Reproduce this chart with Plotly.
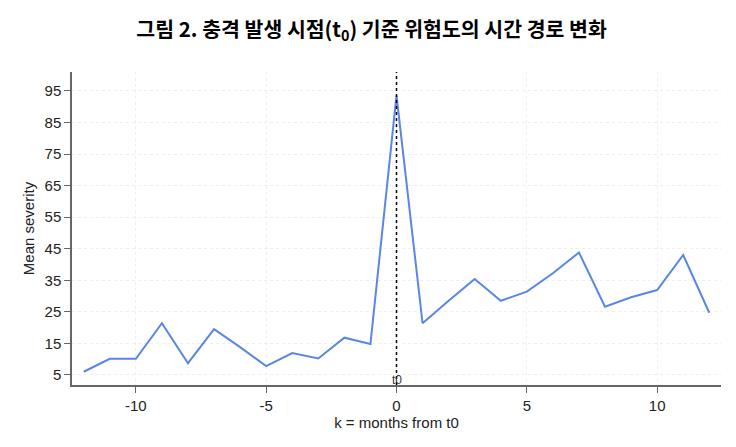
import plotly.graph_objects as go

# months relative to the shock (t0) and mean severity
months = list(range(-12, 13))
mean_severity = [
    6.0, 10.1, 10.1, 21.4, 8.7, 19.5, 13.8, 7.8, 11.9, 10.2, 16.8, 14.8,
    93.6,
    21.4, 28.5, 35.4, 28.5, 31.4, 37.2, 43.8, 26.6, 29.6, 31.9, 43.0, 24.7,
]
y_ticks = [5, 15, 25, 35, 45, 55, 65, 75, 85, 95]
x_ticks = [-10, -5, 0, 5, 10]
x_tick_labels = ["-10", "-5", "0", "5", "10"]

title_text = "<b>그림 2. 충격 발생 시점(t<sub>0</sub>) 기준 위험도의 시간 경로 변화</b>"

grid_color = "rgba(210,210,210,0.35)"
axis_color = "#666666"

fig = go.Figure()

fig.add_trace(
    go.Scatter(
        x=months,
        y=mean_severity,
        mode="lines",
        line=dict(color="#5A86E6", width=2),
        showlegend=False,
    )
)

# dotted marker at the shock month
fig.add_vline(x=0, line=dict(color="black", width=1.5, dash="dot"))
fig.add_annotation(
    x=0, y=0, xref="x", yref="paper",
    text="t0", showarrow=False,
    yanchor="bottom", yshift=-4,
    font=dict(size=12, color="#333333"),
)

# page body adds 8px around the figure, so size it to fit the window
fig.update_layout(
    width=720,
    height=431,
    margin=dict(l=64, r=7, t=64, b=54),
    paper_bgcolor="white",
    plot_bgcolor="white",
    font=dict(family="Liberation Sans, Arial, sans-serif", size=15, color="#222222"),
    title=dict(
        text=title_text,
        x=0.505,
        xanchor="center",
        y=0.95,
        yanchor="middle",
        font=dict(family="Noto Sans CJK KR", size=20.5, color="black"),
    ),
    xaxis=dict(
        range=[-12.45, 12.45],
        tickmode="array",
        tickvals=x_ticks,
        ticktext=x_tick_labels,
        ticks="outside",
        ticklen=6,
        tickcolor=axis_color,
        showline=True,
        linecolor=axis_color,
        linewidth=1.5,
        showgrid=True,
        gridcolor=grid_color,
        griddash="dot",
        zeroline=False,
        automargin=False,
        title=dict(text="k = months from t0", standoff=2, font=dict(size=15)),
    ),
    yaxis=dict(
        range=[1.8, 101],
        tickmode="array",
        tickvals=y_ticks,
        ticks="outside",
        ticklen=6,
        tickcolor=axis_color,
        showline=True,
        linecolor=axis_color,
        linewidth=1.5,
        showgrid=True,
        gridcolor=grid_color,
        griddash="dot",
        zeroline=False,
        automargin=False,
        title=dict(text="Mean severity", standoff=6, font=dict(size=15)),
    ),
)

fig.write_html("out.html")
